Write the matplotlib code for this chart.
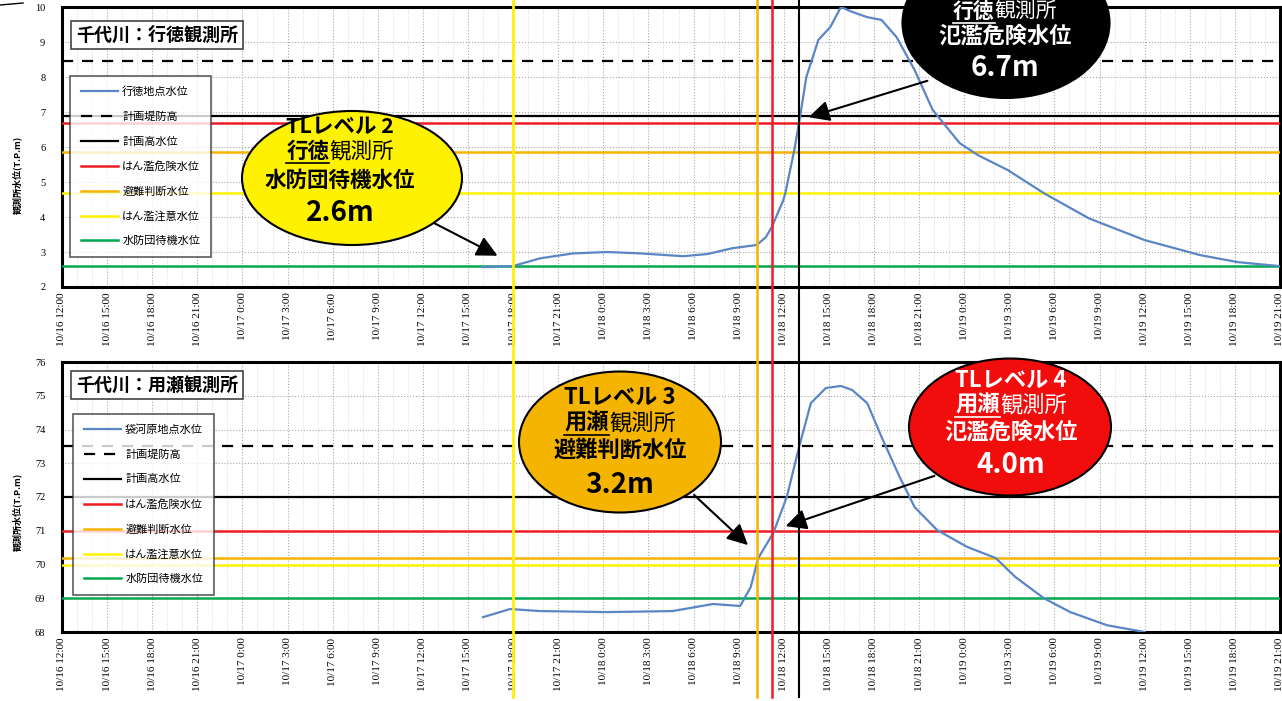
import matplotlib
matplotlib.use('Agg')
import matplotlib.pyplot as plt
import matplotlib.transforms as mtrans
from matplotlib.patches import Ellipse, FancyArrowPatch
from matplotlib.lines import Line2D
from matplotlib.ticker import MultipleLocator

plt.rcParams['font.family'] = ['Noto Sans CJK JP', 'DejaVu Sans']

# ---------------- data ----------------
# time axis: hours since 10/16 12:00, tick every 3 hours
tick_hours = list(range(0, 82, 3))
tick_labels = ["10/16 12:00", "10/16 15:00", "10/16 18:00", "10/16 21:00",
               "10/17 0:00", "10/17 3:00", "10/17 6:00", "10/17 9:00",
               "10/17 12:00", "10/17 15:00", "10/17 18:00", "10/17 21:00",
               "10/18 0:00", "10/18 3:00", "10/18 6:00", "10/18 9:00",
               "10/18 12:00", "10/18 15:00", "10/18 18:00", "10/18 21:00",
               "10/19 0:00", "10/19 3:00", "10/19 6:00", "10/19 9:00",
               "10/19 12:00", "10/19 15:00", "10/19 18:00", "10/19 21:00"]

# 行徳観測所 water level
gyotoku_hours = [28.0, 30.0, 31.8, 34.0, 36.25, 38.45, 41.3, 42.9, 44.6, 46.2,
                 46.8, 47.2, 47.96, 48.1, 48.7, 49.1, 49.5, 50.3, 51.1, 51.8,
                 52.55, 53.55, 54.5, 55.5, 56.7, 57.9, 59.7, 60.9, 62.9, 65.3,
                 68.3, 72.0, 75.7, 78.2, 80.9]
gyotoku_level = [2.57, 2.60, 2.82, 2.96, 3.00, 2.96, 2.88, 2.94, 3.11, 3.20,
                 3.42, 3.71, 4.47, 4.68, 5.91, 6.91, 8.00, 9.06, 9.43, 10.0,
                 9.86, 9.71, 9.63, 9.14, 8.20, 7.06, 6.11, 5.77, 5.34, 4.68,
                 3.96, 3.34, 2.91, 2.71, 2.60]

# 用瀬観測所 (袋河原地点) water level
mochigase_hours = [28.0, 29.8, 31.8, 36.25, 40.6, 43.3, 45.1, 45.8, 46.3, 47.3,
                   48.2, 49.0, 49.8, 50.8, 51.8, 52.55, 53.55, 54.5, 55.7, 56.7,
                   58.2, 60.2, 62.1, 63.4, 65.3, 67.05, 69.5, 72.0]
mochigase_level = [68.44, 68.68, 68.62, 68.59, 68.62, 68.83, 68.77, 69.33, 70.19, 70.93,
                   72.00, 73.45, 74.78, 75.23, 75.29, 75.17, 74.78, 73.78, 72.60, 71.70,
                   71.02, 70.52, 70.19, 69.63, 69.00, 68.59, 68.20, 68.00]

level_names = ["計画堤防高", "計画高水位", "はん濫危険水位", "避難判断水位",
               "はん濫注意水位", "水防団待機水位"]
gyotoku_thresholds = [8.45, 6.90, 6.70, 5.85, 4.70, 2.60]
mochigase_thresholds = [73.5, 72.0, 71.0, 70.2, 70.0, 69.0]

# times of the vertical event lines (hours since 10/16 12:00)
event_hours = [30.0, 46.2, 47.2, 49.0]

# ---------------- style ----------------
BLUE = '#5A86C5'
RED = '#EE1C25'
ORANGE = '#F5B400'
YELLOW = '#FFF200'
GREEN = '#00A650'
level_styles = [dict(color='black', ls=(0, (5, 4)), lw=1.6),
                dict(color='black', ls='-', lw=1.6),
                dict(color=RED, ls='-', lw=1.8),
                dict(color=ORANGE, ls='-', lw=1.8),
                dict(color=YELLOW, ls='-', lw=1.8),
                dict(color=GREEN, ls='-', lw=1.8)]
event_colors = [YELLOW, ORANGE, RED, 'black']
event_widths = [2.0, 1.8, 1.8, 1.5]

W, H = 1282, 701
fig = plt.figure(figsize=(W / 100, H / 100), dpi=100)
fig.patch.set_facecolor('white')


def P(x, y):
    return (x / W, 1 - y / H)


def make_axes(y_top, y_bot):
    return fig.add_axes([62 / W, 1 - y_bot / H, 1218 / W, (y_bot - y_top) / H])


ax1 = make_axes(7, 287)
ax2 = make_axes(362, 632)


def draw_panel(ax, hours, level, series_name, thresholds, ylim, title, title_xy, leg_anchor):
    ax.plot(hours, level, color=BLUE, lw=1.6, label=series_name, zorder=6)
    for name, val, sty in zip(level_names, thresholds, level_styles):
        ax.axhline(val, label=name, zorder=4, **sty)
    ax.set_xlim(0, 81)
    ax.set_ylim(*ylim)
    ax.set_xticks(tick_hours)
    ax.set_xticklabels(tick_labels, rotation=90, fontsize=8,
                       family=['Liberation Serif', 'DejaVu Serif'])
    ax.xaxis.set_minor_locator(MultipleLocator(1))
    ax.yaxis.set_major_locator(MultipleLocator(1))
    for lab in ax.get_yticklabels():
        lab.set_family(['Liberation Serif', 'DejaVu Serif'])
        lab.set_fontsize(7.5)
    ax.tick_params(axis='both', which='both', length=0)
    ax.tick_params(axis='y', pad=12)
    ax.tick_params(axis='x', pad=4)
    ax.grid(which='major', ls=':', color='#a8a8a8', lw=0.8)
    ax.grid(which='minor', axis='x', ls=':', color='#d8d8d8', lw=0.7)
    for sp in ax.spines.values():
        sp.set_linewidth(2.2)
        sp.set_color('black')
    ax.text(*title_xy, title, transform=fig.transFigure, fontsize=13,
            fontweight='bold', ha='center', va='center', zorder=10,
            bbox=dict(boxstyle='square,pad=0.25', fc='white', ec='#444444', lw=1.2))
    leg = ax.legend(loc='upper left', bbox_to_anchor=leg_anchor, borderaxespad=0,
                    fontsize=8, frameon=True, fancybox=False, edgecolor='#333333',
                    handlelength=3.4, handletextpad=0.35, labelspacing=1.3,
                    borderpad=0.95)
    leg.get_frame().set_linewidth(1.2)
    leg.set_zorder(10)


draw_panel(ax1, gyotoku_hours, gyotoku_level, "行徳地点水位", gyotoku_thresholds,
           (2, 10), "千代川：行徳観測所", P(157, 35), (8 / 1218, (287 - 76) / 280))
draw_panel(ax2, mochigase_hours, mochigase_level, "袋河原地点水位", mochigase_thresholds,
           (68, 76), "千代川：用瀬観測所", P(157, 385), (11 / 1218, (632 - 414) / 270))

# vertical event lines spanning the whole figure height
blend = mtrans.blended_transform_factory(ax1.transData, fig.transFigure)
for h, c, lw in zip(event_hours, event_colors, event_widths):
    fig.add_artist(Line2D([h, h], [0.005, 1.0], transform=blend, color=c, lw=lw, zorder=2))

# y axis labels
for y in (175, 512):
    fig.text(*P(17, y), "観測所水位(T.P.m)", rotation=90, fontsize=6.5,
             fontweight='bold', ha='center', va='center')

# small fragment at top-left
fig.add_artist(Line2D([0, 23 / W], [1 - 5 / H, 1 - 3 / H], transform=fig.transFigure,
                      color='black', lw=1))


# ---------------- callouts ----------------
def callout(center, size, fc, tc, lines, cx_text):
    e = Ellipse(P(*center), size[0] / W, size[1] / H, transform=fig.transFigure,
                fc=fc, ec='black', lw=1.5, zorder=20)
    fig.add_artist(e)
    for kind, y, content, fs in lines:
        if kind == 'plain':
            fig.text(*P(cx_text, y), content, fontsize=fs, fontweight='bold', color=tc,
                     ha='center', va='center', zorder=21)
        else:
            c = fs * 100 / 72
            split = cx_text - 0.5 * c
            fig.text(*P(split, y), content[0], fontsize=fs, fontweight='bold', color=tc,
                     ha='right', va='center', zorder=21)
            fig.text(*P(split, y), content[1], fontsize=fs, fontweight='normal', color=tc,
                     ha='left', va='center', zorder=21)
            ux0, ux1 = cx_text - 2.5 * c, split
            fig.add_artist(Line2D([ux0 / W, ux1 / W], [1 - (y + 12) / H] * 2,
                                  transform=fig.transFigure, color=tc, lw=1.2, zorder=21))


def arrow(a, b):
    fig.add_artist(FancyArrowPatch(P(*a), P(*b), transform=fig.transFigure,
                                   arrowstyle='-|>,head_length=0.9,head_width=0.45',
                                   mutation_scale=14, lw=1.5, color='black', zorder=19))


arrow((432, 222), (500, 257))
callout((352, 178), (220, 134), YELLOW, 'black',
        [('plain', 126, "TLレベル 2", 15.5),
         ('split', 151, ("行徳", "観測所"), 15.5),
         ('plain', 180, "水防団待機水位", 15.5),
         ('plain', 213, "2.6m", 20)], 340)

arrow((930, 80), (806, 118))
callout((1006, 23), (207, 150), 'black', 'white',
        [('split', 11, ("行徳", "観測所"), 15),
         ('plain', 36, "氾濫危険水位", 16),
         ('plain', 68, "6.7m", 20)], 1005)

arrow((692, 493), (750, 547))
callout((620, 442), (202, 141), ORANGE, 'black',
        [('plain', 397, "TLレベル 3", 16),
         ('split', 423, ("用瀬", "観測所"), 16),
         ('plain', 450, "避難判断水位", 16),
         ('plain', 485, "3.2m", 20)], 620)

arrow((937, 475), (783, 527))
callout((1010, 427), (202, 137), '#F20D0D', 'white',
        [('plain', 380, "TLレベル 4", 16),
         ('split', 405, ("用瀬", "観測所"), 16),
         ('plain', 432, "氾濫危険水位", 16),
         ('plain', 465, "4.0m", 20)], 1011)

fig.savefig('out.png', dpi=100, facecolor='white')
